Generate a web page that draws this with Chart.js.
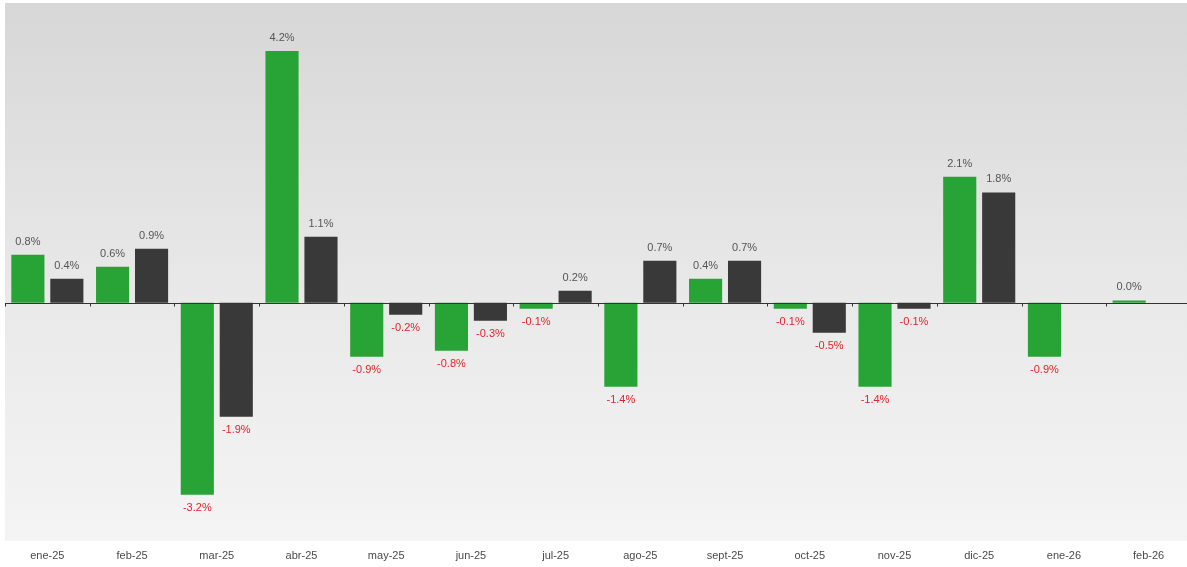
<!DOCTYPE html>
<html>
<head>
<meta charset="utf-8">
<script src="https://cdn.jsdelivr.net/npm/chart.js@4/dist/chart.umd.min.js"></script>
<style>
  html, body { margin: 0; padding: 0; background: #ffffff; overflow: hidden; }
  #wrap { width: 1187px; height: 567px; overflow: hidden; position: relative; }
  #c { position: absolute; left: 0; top: 0; }
</style>
</head>
<body>
<div id="wrap"><canvas id="c" width="1193" height="572"></canvas></div>
<script>
const categories = ['ene-25','feb-25','mar-25','abr-25','may-25','jun-25','jul-25','ago-25','sept-25','oct-25','nov-25','dic-25','ene-26','feb-26'];
const seriesGreen = [0.8, 0.6, -3.2, 4.2, -0.9, -0.8, -0.1, -1.4, 0.4, -0.1, -1.4, 2.1, -0.9, 0.04];
const seriesDark  = [0.4, 0.9, -1.9, 1.1, -0.2, -0.3, 0.2, 0.7, 0.7, -0.5, -0.1, 1.84, null, null];
const yMin = -3.97;
const yMax = 5.0;

const bgPlugin = {
  id: 'bgGradient',
  beforeDraw(chart) {
    const { ctx, chartArea: a } = chart;
    const g = ctx.createLinearGradient(0, a.top, 0, a.bottom);
    g.addColorStop(0, '#d7d7d7');
    g.addColorStop(0.55, '#e9e9e9');
    g.addColorStop(1, '#f4f4f4');
    ctx.save();
    ctx.fillStyle = g;
    ctx.fillRect(a.left, a.top, a.right - a.left, a.bottom - a.top);
    ctx.restore();
  }
};

const zeroLinePlugin = {
  id: 'zeroLine',
  afterDatasetsDraw(chart) {
    const { ctx, chartArea: a, scales } = chart;
    const y0 = Math.round(scales.y.getPixelForValue(0)) + 0.5;
    ctx.save();
    ctx.strokeStyle = '#333333';
    ctx.lineWidth = 1;
    ctx.beginPath();
    ctx.moveTo(a.left, y0);
    ctx.lineTo(a.right, y0);
    const n = categories.length;
    const w = (a.right - a.left) / n;
    for (let i = 0; i <= n; i++) {
      const x = Math.round(a.left + i * w) + 0.5;
      ctx.moveTo(x, y0);
      ctx.lineTo(x, y0 + 3);
    }
    ctx.stroke();
    ctx.restore();
  }
};

const labelPlugin = {
  id: 'valueLabels',
  afterDatasetsDraw(chart) {
    const { ctx } = chart;
    ctx.save();
    ctx.font = '11px "Liberation Sans", Arial, sans-serif';
    ctx.textAlign = 'center';
    ctx.textBaseline = 'middle';
    chart.data.datasets.forEach((ds, di) => {
      const meta = chart.getDatasetMeta(di);
      meta.data.forEach((el, i) => {
        const v = ds.data[i];
        if (v === null || v === undefined) return;
        const txt = v.toFixed(1) + '%';
        if (v >= 0) {
          ctx.fillStyle = '#555555';
          ctx.fillText(txt, el.x, el.y - 13);
        } else {
          ctx.fillStyle = '#e3242b';
          ctx.fillText(txt, el.x, el.y + 13);
        }
      });
    });
    ctx.restore();
  }
};

new Chart(document.getElementById('c'), {
  type: 'bar',
  data: {
    labels: categories,
    datasets: [
      { label: 'A', data: seriesGreen, backgroundColor: '#28a335', borderWidth: 0, barPercentage: 0.85, categoryPercentage: 0.92 },
      { label: 'B', data: seriesDark, backgroundColor: '#393939', borderWidth: 0, barPercentage: 0.85, categoryPercentage: 0.92 }
    ]
  },
  options: {
    responsive: false,
    animation: false,
    devicePixelRatio: 1,
    layout: { padding: { left: 5, right: 2, top: 3, bottom: 0 } },
    plugins: { legend: { display: false }, tooltip: { enabled: false } },
    scales: {
      x: {
        grid: { display: false, drawTicks: false },
        border: { display: false },
        ticks: { color: '#4a4a4a', font: { size: 11, family: '"Liberation Sans", Arial, sans-serif' }, padding: 9, maxRotation: 0, autoSkip: false }
      },
      y: {
        display: false,
        min: yMin,
        max: yMax
      }
    }
  },
  plugins: [bgPlugin, zeroLinePlugin, labelPlugin]
});
</script>
</body>
</html>
